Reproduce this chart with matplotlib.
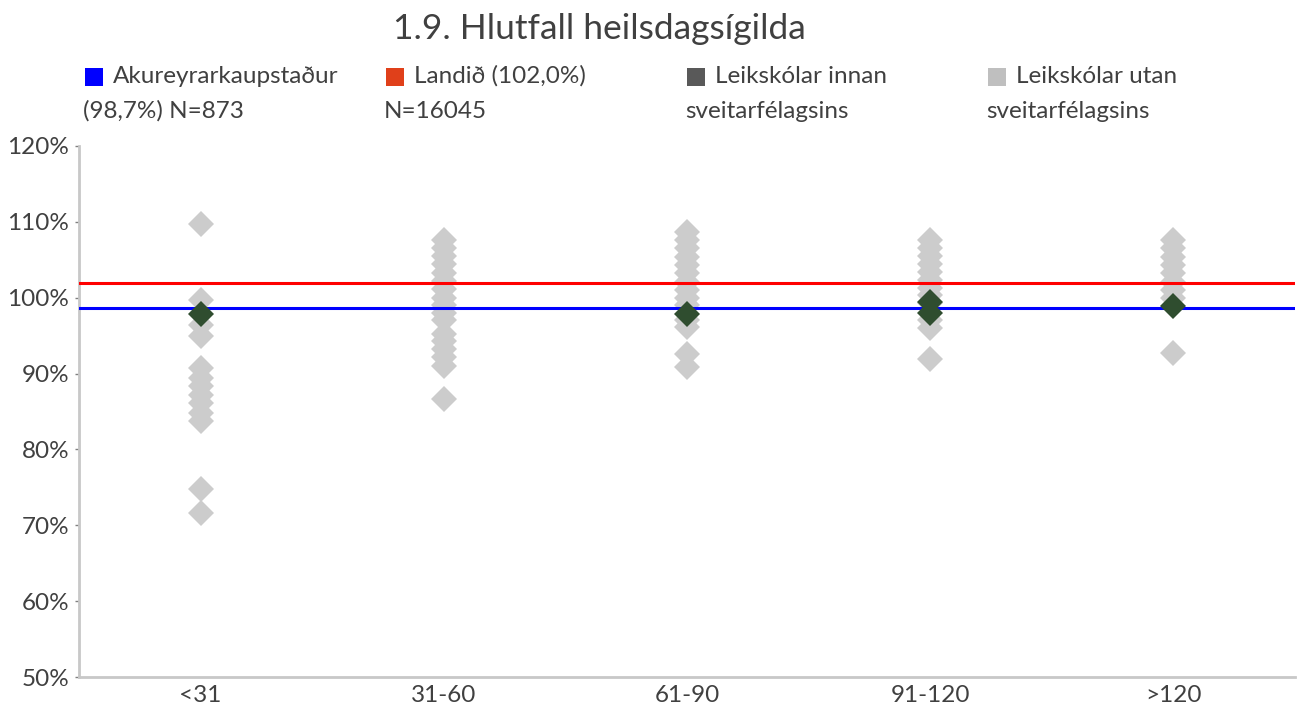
import matplotlib
matplotlib.use("Agg")
import matplotlib.pyplot as plt
from matplotlib.patches import Rectangle
from matplotlib.ticker import FuncFormatter

plt.rcParams['font.family'] = ['Lato', 'DejaVu Sans']

# Size groups (number of children per preschool)
categories = ["<31", "31-60", "61-90", "91-120", ">120"]

# Preschools outside the municipality (percent), per size group
utan = [
    [109.7, 99.7, 96.4, 94.9, 90.7, 89.4, 88.3, 87.2, 86.1, 84.8, 83.7, 74.8, 71.6],
    [107.6, 106.5, 105.5, 104.4, 103.3, 102.2, 101.1, 100.0, 99.0, 98.0, 97.0,
     95.2, 94.3, 93.3, 92.2, 91.0, 86.6],
    [108.7, 107.6, 106.5, 105.4, 104.3, 103.2, 102.1, 101.0, 100.0, 99.0, 97.0,
     96.2, 92.6, 90.9],
    [107.6, 106.6, 105.5, 104.5, 103.4, 102.4, 101.3, 100.3, 99.3, 97.0, 96.0, 91.9],
    [107.6, 106.5, 105.4, 104.3, 103.2, 102.1, 101.0, 100.0, 92.7],
]

# Preschools inside the municipality (percent), per size group
innan = [
    [97.9],
    [],
    [97.9],
    [99.5, 98.0],
    [98.9],
]

akureyri_value = 98.7
landid_value = 102.0

legend_first = ["Akureyrarkaupstaður", "Landið (102,0%)", "Leikskólar innan", "Leikskólar utan"]
legend_second = ["(98,7%) N=873", "N=16045", "sveitarfélagsins", "sveitarfélagsins"]
legend_colors = ["#0000FF", "#E0401A", "#595959", "#BFBFBF"]

text_color = "#404040"
grey_pt = "#CCCCCC"
green_pt = "#2F4D2F"
W, H = 1304, 709

fig = plt.figure(figsize=(W / 100, H / 100), dpi=100)
ax = fig.add_axes([79 / W, 1 - 677 / H, (1295 - 79) / W, (677 - 146) / H])

for i, vals in enumerate(utan):
    ax.plot([i] * len(vals), vals, linestyle="none", marker="D", markersize=13.5,
            color=grey_pt, markeredgewidth=0, zorder=2)

ax.axhline(landid_value, color="#FF0000", linewidth=2.2, zorder=3)
ax.axhline(akureyri_value, color="#0000FF", linewidth=2.2, zorder=3)

for i, vals in enumerate(innan):
    if vals:
        ax.plot([i] * len(vals), vals, linestyle="none", marker="D", markersize=13.5,
                color=green_pt, markeredgewidth=0, zorder=4)

ax.set_xlim(-0.5, len(categories) - 0.5)
ax.set_ylim(50, 120)
ax.set_xticks(range(len(categories)))
ax.set_xticklabels(categories)
ax.set_yticks(range(50, 121, 10))
ax.yaxis.set_major_formatter(FuncFormatter(lambda v, p: f"{v:.0f}%"))

for side in ("top", "right"):
    ax.spines[side].set_visible(False)
for side in ("left", "bottom"):
    ax.spines[side].set_color("#C8C8C8")
    ax.spines[side].set_linewidth(2)
ax.tick_params(axis="x", length=0, pad=6, labelsize=17.5, labelcolor=text_color)
ax.tick_params(axis="y", length=3, width=1, color="#808080", pad=4,
               labelsize=17.5, labelcolor=text_color)

fig.text(599 / W, 1 - 39 / H, "1.9. Hlutfall heilsdagsígilda", ha="center",
         va="baseline", fontsize=25.5, color=text_color)

# Legend: square + first line, second line wraps under the square
for k, x0 in enumerate([85, 386, 687, 988]):
    fig.patches.append(Rectangle((x0 / W, 1 - 86 / H), 18 / W, 18 / H,
                                 transform=fig.transFigure, facecolor=legend_colors[k],
                                 edgecolor="none"))
    fig.text((x0 + 28) / W, 1 - 83 / H, legend_first[k], ha="left", va="baseline",
             fontsize=17.5, color=text_color)
    fig.text((x0 - 2) / W, 1 - 118 / H, legend_second[k], ha="left", va="baseline",
             fontsize=17.5, color=text_color)

fig.savefig("out.png", dpi=100)
